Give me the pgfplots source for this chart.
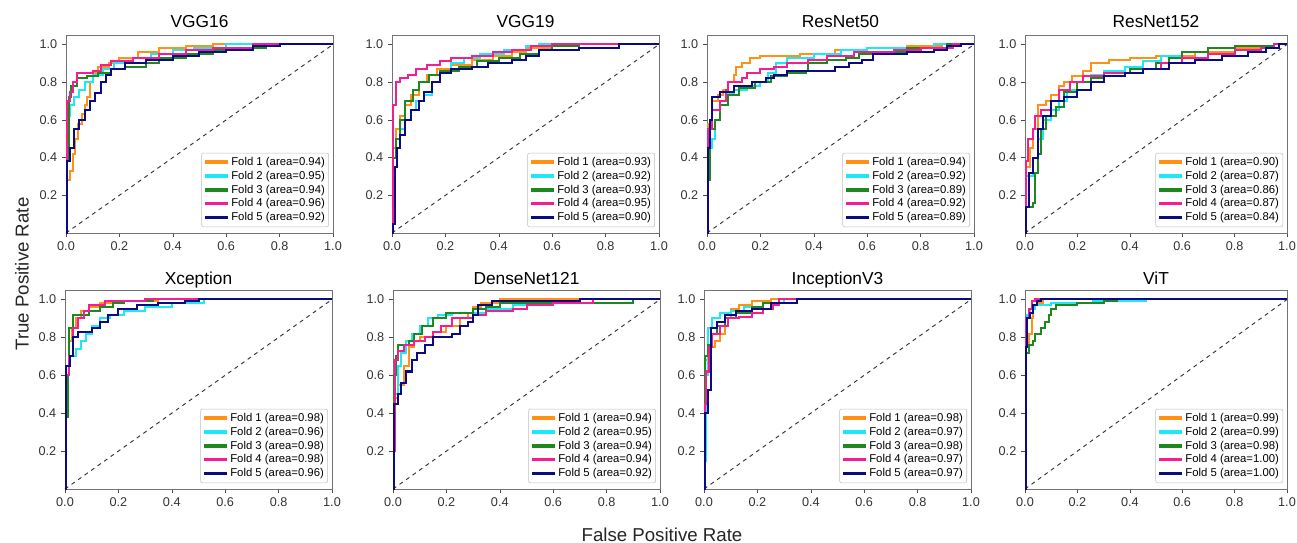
\documentclass[border=0pt]{standalone}
\usepackage{fontspec}
\setmainfont{Liberation Sans}
\usepackage{pgfplots}
\pgfplotsset{compat=1.18}
\definecolor{forange}{RGB}{255,145,20}
\definecolor{fcyan}{RGB}{30,232,245}
\definecolor{fgreen}{RGB}{30,135,30}
\definecolor{fpink}{RGB}{245,30,145}
\definecolor{fnavy}{RGB}{10,10,130}

\pgfplotsset{
  rocax/.style={
    scale only axis, width=200.25pt, height=148.5pt,
    xmin=0, xmax=1, ymin=0, ymax=1.05,
    xtick={0,0.2,0.4,0.6,0.8,1}, ytick={0.2,0.4,0.6,0.8,1},
    xticklabel style={/pgf/number format/.cd, fixed, fixed zerofill, precision=1},
    yticklabel style={/pgf/number format/.cd, fixed, fixed zerofill, precision=1},
    /pgf/number format/assume math mode=true,
    tick label style={font=\fontsize{9.5}{11}\selectfont, text=black!80},
    axis line style={black!55}, tick style={black!70, thin},
    tick align=outside, major tick length=3pt,
    xtick pos=left, ytick pos=left,
    every axis title shift=0pt,
    title style={font=\fontsize{13}{15}\selectfont, at={(0.5,1)}, anchor=base, yshift=6pt},
    legend style={at={(0.985,0.03)}, anchor=south east,
      font=\fontsize{8.5}{9}\selectfont, draw=black!25, rounded corners=1.5pt,
      inner sep=1.5pt, row sep=0pt, nodes={inner sep=1.4pt}, cells={anchor=west}},
    legend image code/.code={\draw[##1, line width=2.4pt] (0pt,0pt) -- (17pt,0pt);},
  },
  row2/.style={height=149.25pt, title style={yshift=-1.5pt}},
  f1/.style={color=forange, line width=1.5pt, const plot mark left},
  f2/.style={color=fcyan, line width=1.5pt, const plot mark left},
  f3/.style={color=fgreen, line width=1.5pt, const plot mark left},
  f4/.style={color=fpink, line width=1.5pt, const plot mark left},
  f5/.style={color=fnavy, line width=1.5pt, const plot mark left},
  diag/.style={black!80, dashed, line width=0.7pt, forget plot},
}

\begin{document}
\begin{tikzpicture}
\useasboundingbox (0,0) rectangle (972.75pt,-407.25pt);

% ---------- row 1 ----------
\begin{axis}[rocax, at={(49.5pt,-174.75pt)}, anchor=south west, title={VGG16}]
\addplot[diag] coordinates {(0,0)(1,1)};
\addplot[f1] coordinates {(0,0)(0.005,0.28)(0.015,0.33)(0.025,0.42)(0.035,0.5)(0.045,0.58)(0.06,0.63)(0.07,0.68)(0.08,0.72)(0.09,0.8)(0.1,0.85)(0.12,0.88)(0.16,0.9)(0.2,0.93)(0.27,0.96)(0.35,0.98)(0.45,0.99)(0.55,1)(1,1)(1,1)};
\addlegendentry{Fold 1 (area=0.94)}
\addplot[f2] coordinates {(0,0)(0.005,0.62)(0.015,0.68)(0.03,0.72)(0.05,0.76)(0.07,0.8)(0.1,0.84)(0.14,0.87)(0.18,0.9)(0.25,0.93)(0.32,0.95)(0.4,0.97)(0.48,0.98)(0.6,1)(1,1)(1,1)};
\addlegendentry{Fold 2 (area=0.95)}
\addplot[f3] coordinates {(0,0)(0.005,0.38)(0.01,0.72)(0.02,0.78)(0.04,0.82)(0.08,0.83)(0.12,0.85)(0.17,0.87)(0.22,0.88)(0.3,0.9)(0.35,0.93)(0.45,0.95)(0.55,0.97)(0.65,0.98)(0.75,1)(1,1)(1,1)};
\addlegendentry{Fold 3 (area=0.94)}
\addplot[f4] coordinates {(0,0)(0.003,0.7)(0.015,0.75)(0.025,0.8)(0.04,0.85)(0.1,0.86)(0.13,0.89)(0.17,0.91)(0.25,0.93)(0.35,0.95)(0.45,0.97)(0.55,0.98)(0.7,1)(1,1)(1,1)};
\addlegendentry{Fold 4 (area=0.96)}
\addplot[f5] coordinates {(0,0)(0.003,0.38)(0.015,0.45)(0.03,0.55)(0.05,0.6)(0.07,0.65)(0.09,0.7)(0.11,0.74)(0.13,0.8)(0.15,0.84)(0.17,0.87)(0.22,0.9)(0.3,0.92)(0.4,0.94)(0.5,0.96)(0.6,0.97)(0.7,0.99)(0.8,1)(1,1)(1,1)};
\addlegendentry{Fold 5 (area=0.92)}
\end{axis}

\begin{axis}[rocax, at={(294pt,-174.75pt)}, anchor=south west, title={VGG19}]
\addplot[diag] coordinates {(0,0)(1,1)};
\addplot[f1] coordinates {(0,0)(0.005,0.45)(0.015,0.55)(0.03,0.62)(0.05,0.68)(0.07,0.73)(0.1,0.8)(0.13,0.84)(0.17,0.87)(0.22,0.89)(0.3,0.92)(0.38,0.94)(0.45,0.96)(0.5,0.98)(0.6,0.99)(0.65,1)(1,1)(1,1)};
\addlegendentry{Fold 1 (area=0.93)}
\addplot[f2] coordinates {(0,0)(0.005,0.35)(0.02,0.45)(0.03,0.55)(0.05,0.6)(0.07,0.65)(0.09,0.7)(0.12,0.73)(0.15,0.8)(0.18,0.86)(0.22,0.9)(0.27,0.93)(0.33,0.95)(0.42,0.97)(0.5,0.99)(0.55,1)(1,1)(1,1)};
\addlegendentry{Fold 2 (area=0.92)}
\addplot[f3] coordinates {(0,0)(0.005,0.4)(0.015,0.5)(0.03,0.6)(0.05,0.7)(0.08,0.76)(0.1,0.8)(0.14,0.84)(0.18,0.86)(0.25,0.88)(0.32,0.91)(0.4,0.93)(0.48,0.95)(0.55,0.97)(0.6,0.99)(0.7,1)(1,1)(1,1)};
\addlegendentry{Fold 3 (area=0.93)}
\addplot[f4] coordinates {(0,0)(0.003,0.68)(0.015,0.8)(0.03,0.82)(0.06,0.84)(0.09,0.87)(0.13,0.89)(0.18,0.91)(0.22,0.93)(0.3,0.94)(0.38,0.96)(0.45,0.97)(0.52,0.99)(0.6,1)(1,1)(1,1)};
\addlegendentry{Fold 4 (area=0.95)}
\addplot[f5] coordinates {(0,0)(0.005,0.05)(0.01,0.35)(0.02,0.45)(0.03,0.52)(0.05,0.6)(0.07,0.65)(0.1,0.7)(0.12,0.75)(0.15,0.8)(0.18,0.85)(0.22,0.87)(0.3,0.88)(0.36,0.9)(0.45,0.92)(0.5,0.94)(0.55,0.97)(0.7,0.98)(0.85,1)(1,1)(1,1)};
\addlegendentry{Fold 5 (area=0.90)}
\end{axis}

\begin{axis}[rocax, at={(530.25pt,-174.75pt)}, anchor=south west, title={ResNet50}]
\addplot[diag] coordinates {(0,0)(1,1)};
\addplot[f1] coordinates {(0,0)(0.005,0.58)(0.02,0.7)(0.04,0.73)(0.06,0.76)(0.08,0.8)(0.1,0.84)(0.11,0.88)(0.13,0.9)(0.16,0.93)(0.2,0.94)(0.35,0.95)(0.48,0.97)(0.6,0.98)(0.75,0.99)(0.88,1)(1,1)(1,1)};
\addlegendentry{Fold 1 (area=0.94)}
\addplot[f2] coordinates {(0,0)(0.005,0.45)(0.02,0.5)(0.03,0.6)(0.05,0.7)(0.08,0.74)(0.1,0.76)(0.15,0.78)(0.2,0.8)(0.23,0.85)(0.26,0.9)(0.3,0.93)(0.4,0.95)(0.5,0.97)(0.6,0.98)(0.85,1)(1,1)(1,1)};
\addlegendentry{Fold 2 (area=0.92)}
\addplot[f3] coordinates {(0,0)(0.005,0.28)(0.01,0.55)(0.03,0.6)(0.05,0.68)(0.08,0.73)(0.12,0.77)(0.18,0.8)(0.24,0.83)(0.3,0.85)(0.37,0.86)(0.38,0.9)(0.45,0.92)(0.52,0.93)(0.57,0.95)(0.65,0.96)(0.75,0.98)(0.9,1)(1,1)(1,1)};
\addlegendentry{Fold 3 (area=0.89)}
\addplot[f4] coordinates {(0,0)(0.005,0.55)(0.02,0.65)(0.05,0.7)(0.07,0.76)(0.08,0.8)(0.13,0.82)(0.15,0.85)(0.2,0.87)(0.25,0.88)(0.3,0.9)(0.38,0.92)(0.45,0.94)(0.55,0.96)(0.7,0.97)(0.8,0.98)(0.92,1)(1,1)(1,1)};
\addlegendentry{Fold 4 (area=0.92)}
\addplot[f5] coordinates {(0,0)(0.005,0.45)(0.01,0.6)(0.02,0.72)(0.05,0.75)(0.1,0.78)(0.17,0.8)(0.22,0.82)(0.25,0.84)(0.3,0.86)(0.45,0.86)(0.48,0.88)(0.53,0.9)(0.58,0.92)(0.62,0.95)(0.75,0.96)(0.85,0.97)(0.9,0.99)(0.95,1)(1,1)(1,1)};
\addlegendentry{Fold 5 (area=0.89)}
\end{axis}

\begin{axis}[rocax, width=196.5pt, at={(768.75pt,-174.75pt)}, anchor=south west, title={ResNet152}]
\addplot[diag] coordinates {(0,0)(1,1)};
\addplot[f1] coordinates {(0,0)(0.005,0.35)(0.02,0.45)(0.03,0.55)(0.05,0.68)(0.08,0.7)(0.1,0.73)(0.13,0.78)(0.15,0.8)(0.18,0.83)(0.22,0.86)(0.25,0.9)(0.32,0.92)(0.4,0.93)(0.5,0.94)(0.65,0.96)(0.8,0.98)(0.95,1)(1,1)(1,1)};
\addlegendentry{Fold 1 (area=0.90)}
\addplot[f2] coordinates {(0,0)(0.005,0.3)(0.03,0.4)(0.05,0.5)(0.07,0.6)(0.1,0.65)(0.13,0.7)(0.16,0.76)(0.2,0.8)(0.25,0.84)(0.3,0.86)(0.38,0.88)(0.45,0.91)(0.52,0.94)(0.6,0.96)(0.7,0.98)(0.8,0.99)(0.95,1)(1,1)(1,1)};
\addlegendentry{Fold 2 (area=0.87)}
\addplot[f3] coordinates {(0,0)(0.005,0.14)(0.03,0.16)(0.04,0.32)(0.05,0.42)(0.06,0.55)(0.08,0.62)(0.12,0.67)(0.15,0.75)(0.2,0.8)(0.25,0.82)(0.3,0.85)(0.4,0.87)(0.5,0.9)(0.55,0.93)(0.6,0.96)(0.7,0.98)(0.8,0.99)(0.95,1)(1,1)(1,1)};
\addlegendentry{Fold 3 (area=0.86)}
\addplot[f4] coordinates {(0,0)(0.003,0.38)(0.01,0.5)(0.03,0.55)(0.04,0.62)(0.06,0.65)(0.1,0.7)(0.13,0.76)(0.17,0.8)(0.22,0.83)(0.3,0.85)(0.45,0.87)(0.52,0.9)(0.6,0.93)(0.7,0.95)(0.8,0.97)(0.9,0.98)(0.95,1)(1,1)(1,1)};
\addlegendentry{Fold 4 (area=0.87)}
\addplot[f5] coordinates {(0,0)(0.003,0.14)(0.015,0.32)(0.03,0.4)(0.05,0.55)(0.07,0.62)(0.1,0.7)(0.15,0.72)(0.2,0.76)(0.25,0.8)(0.3,0.83)(0.38,0.85)(0.45,0.87)(0.55,0.9)(0.65,0.92)(0.75,0.94)(0.85,0.96)(0.92,0.98)(0.97,1)(1,1)(1,1)};
\addlegendentry{Fold 5 (area=0.84)}
\end{axis}

% ---------- row 2 ----------
\begin{axis}[rocax, row2, at={(48.75pt,-366.75pt)}, anchor=south west, title={Xception}]
\addplot[diag] coordinates {(0,0)(1,1)};
\addplot[f1] coordinates {(0,0)(0.005,0.65)(0.015,0.78)(0.025,0.85)(0.04,0.9)(0.06,0.94)(0.09,0.96)(0.13,0.98)(0.2,0.99)(0.35,1)(1,1)(1,1)};
\addlegendentry{Fold 1 (area=0.98)}
\addplot[f2] coordinates {(0,0)(0.003,0.65)(0.02,0.7)(0.04,0.74)(0.06,0.78)(0.08,0.82)(0.1,0.86)(0.13,0.9)(0.17,0.92)(0.22,0.94)(0.3,0.96)(0.4,0.98)(0.52,1)(1,1)(1,1)};
\addlegendentry{Fold 2 (area=0.96)}
\addplot[f3] coordinates {(0,0)(0.005,0.38)(0.01,0.6)(0.015,0.85)(0.03,0.92)(0.09,0.94)(0.13,0.96)(0.18,0.98)(0.22,0.99)(0.33,1)(1,1)(1,1)};
\addlegendentry{Fold 3 (area=0.98)}
\addplot[f4] coordinates {(0,0)(0.005,0.6)(0.015,0.7)(0.03,0.85)(0.05,0.9)(0.07,0.94)(0.09,0.97)(0.15,0.99)(0.3,1)(1,1)(1,1)};
\addlegendentry{Fold 4 (area=0.98)}
\addplot[f5] coordinates {(0,0)(0.003,0.65)(0.02,0.7)(0.03,0.8)(0.05,0.83)(0.1,0.85)(0.13,0.88)(0.16,0.92)(0.2,0.95)(0.27,0.97)(0.35,0.98)(0.45,0.99)(0.5,1)(1,1)(1,1)};
\addlegendentry{Fold 5 (area=0.96)}
\end{axis}

\begin{axis}[rocax, row2, at={(294.75pt,-366.75pt)}, anchor=south west, title={DenseNet121}]
\addplot[diag] coordinates {(0,0)(1,1)};
\addplot[f1] coordinates {(0,0)(0.005,0.48)(0.02,0.55)(0.04,0.65)(0.06,0.75)(0.08,0.78)(0.1,0.8)(0.15,0.83)(0.2,0.86)(0.25,0.9)(0.28,0.93)(0.3,0.96)(0.33,0.98)(0.4,1)(1,1)(1,1)};
\addlegendentry{Fold 1 (area=0.94)}
\addplot[f2] coordinates {(0,0)(0.005,0.5)(0.02,0.65)(0.03,0.72)(0.05,0.78)(0.07,0.82)(0.1,0.86)(0.13,0.9)(0.17,0.92)(0.22,0.93)(0.35,0.95)(0.45,0.97)(0.55,0.98)(0.75,1)(1,1)(1,1)};
\addlegendentry{Fold 2 (area=0.95)}
\addplot[f3] coordinates {(0,0)(0.005,0.6)(0.01,0.7)(0.02,0.76)(0.06,0.78)(0.08,0.82)(0.11,0.86)(0.15,0.9)(0.2,0.93)(0.3,0.95)(0.35,0.96)(0.4,0.98)(0.9,1)(1,1)(1,1)};
\addlegendentry{Fold 3 (area=0.94)}
\addplot[f4] coordinates {(0,0)(0.003,0.2)(0.008,0.68)(0.02,0.73)(0.04,0.76)(0.08,0.78)(0.12,0.8)(0.15,0.83)(0.18,0.86)(0.22,0.9)(0.3,0.92)(0.35,0.94)(0.45,0.95)(0.5,0.97)(0.6,0.98)(0.75,1)(1,1)(1,1)};
\addlegendentry{Fold 4 (area=0.94)}
\addplot[f5] coordinates {(0,0)(0.005,0.45)(0.02,0.5)(0.03,0.56)(0.05,0.62)(0.07,0.68)(0.09,0.72)(0.12,0.76)(0.15,0.8)(0.22,0.82)(0.25,0.86)(0.28,0.88)(0.3,0.92)(0.32,0.97)(0.37,0.99)(0.7,1)(1,1)(1,1)};
\addlegendentry{Fold 5 (area=0.92)}
\end{axis}

\begin{axis}[rocax, row2, at={(528pt,-366.75pt)}, anchor=south west, title={InceptionV3}]
\addplot[diag] coordinates {(0,0)(1,1)};
\addplot[f1] coordinates {(0,0)(0.005,0.68)(0.02,0.75)(0.04,0.78)(0.06,0.82)(0.08,0.9)(0.1,0.95)(0.13,0.97)(0.18,0.99)(0.25,1)(1,1)(1,1)};
\addlegendentry{Fold 1 (area=0.98)}
\addplot[f2] coordinates {(0,0)(0.003,0.15)(0.008,0.6)(0.015,0.85)(0.03,0.9)(0.06,0.93)(0.1,0.94)(0.15,0.96)(0.22,0.98)(0.3,1)(1,1)(1,1)};
\addlegendentry{Fold 2 (area=0.97)}
\addplot[f3] coordinates {(0,0)(0.003,0.7)(0.015,0.76)(0.03,0.82)(0.05,0.86)(0.08,0.9)(0.12,0.93)(0.18,0.96)(0.22,0.98)(0.28,1)(1,1)(1,1)};
\addlegendentry{Fold 3 (area=0.98)}
\addplot[f4] coordinates {(0,0)(0.003,0.45)(0.008,0.62)(0.02,0.75)(0.03,0.82)(0.06,0.86)(0.09,0.9)(0.13,0.91)(0.18,0.93)(0.22,0.95)(0.26,0.97)(0.28,1)(1,1)(1,1)};
\addlegendentry{Fold 4 (area=0.97)}
\addplot[f5] coordinates {(0,0)(0.003,0.4)(0.015,0.52)(0.025,0.85)(0.05,0.88)(0.08,0.92)(0.12,0.94)(0.18,0.95)(0.25,0.98)(0.35,1)(1,1)(1,1)};
\addlegendentry{Fold 5 (area=0.97)}
\end{axis}

\begin{axis}[rocax, row2, width=196.5pt, at={(768.75pt,-366.75pt)}, anchor=south west, title={ViT}]
\addplot[diag] coordinates {(0,0)(1,1)};
\addplot[f1] coordinates {(0,0)(0.003,0.75)(0.015,0.82)(0.025,0.9)(0.03,0.97)(0.05,0.98)(0.07,1)(1,1)(1,1)};
\addlegendentry{Fold 1 (area=0.99)}
\addplot[f2] coordinates {(0,0)(0.003,0.8)(0.008,0.92)(0.02,0.95)(0.04,0.97)(0.1,0.98)(0.26,0.99)(0.46,1)(1,1)(1,1)};
\addlegendentry{Fold 2 (area=0.99)}
\addplot[f3] coordinates {(0,0)(0.003,0.72)(0.015,0.76)(0.03,0.78)(0.04,0.82)(0.06,0.85)(0.075,0.88)(0.09,0.92)(0.1,0.95)(0.12,0.97)(0.2,0.98)(0.3,0.99)(0.35,1)(1,1)(1,1)};
\addlegendentry{Fold 3 (area=0.98)}
\addplot[f4] coordinates {(0,0)(0.003,0.9)(0.015,0.95)(0.025,0.99)(0.04,1)(1,1)(1,1)};
\addlegendentry{Fold 4 (area=1.00)}
\addplot[f5] coordinates {(0,0)(0.003,0.75)(0.008,0.9)(0.02,0.93)(0.03,0.97)(0.045,0.99)(0.06,1)(1,1)(1,1)};
\addlegendentry{Fold 5 (area=1.00)}
\end{axis}

\node[rotate=90, font=\fontsize{14}{16}\selectfont, text=black!85] at (16.5pt,-205.5pt) {True Positive Rate};
\node[font=\fontsize{14}{16}\selectfont, text=black!85] at (496.5pt,-401pt) {False Positive Rate};
\end{tikzpicture}
\end{document}
